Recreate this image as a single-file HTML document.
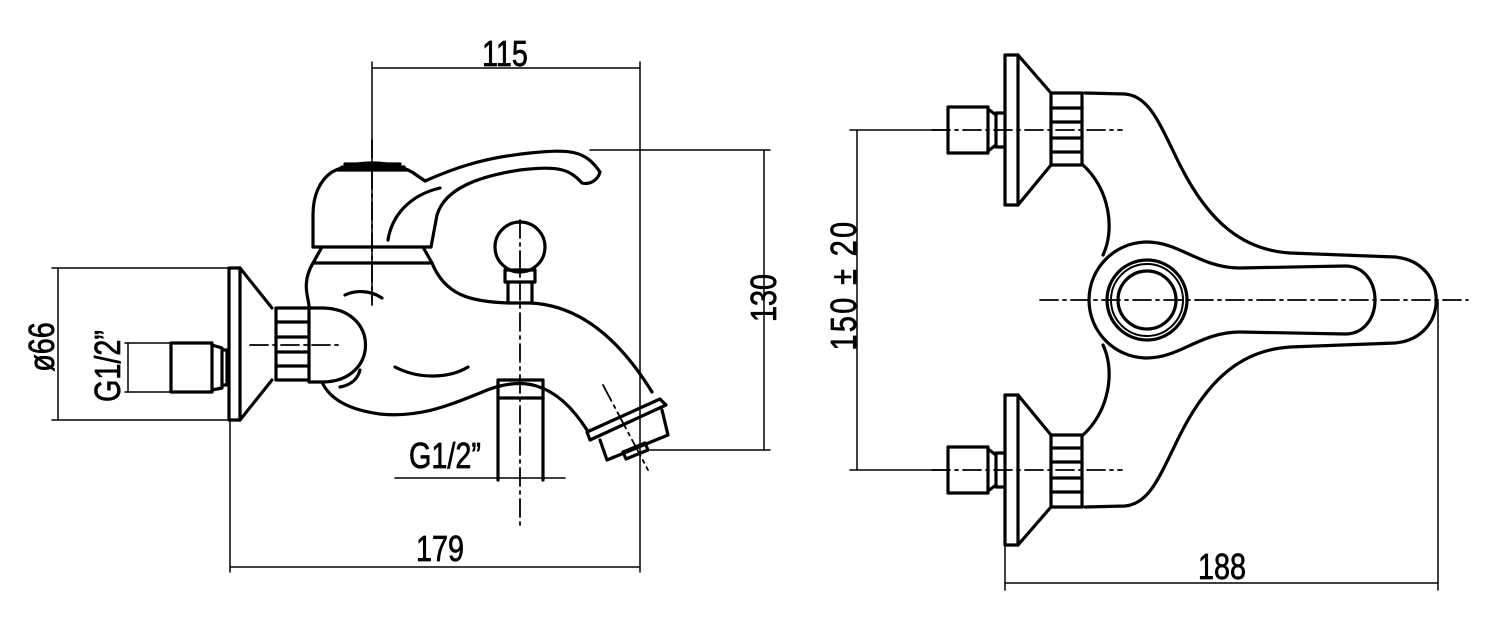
<!DOCTYPE html>
<html><head><meta charset="utf-8"><style>
html,body{margin:0;padding:0;background:#fff;}
svg{display:block}
text{font-family:"Liberation Sans",sans-serif;font-size:36px;fill:#000;stroke:#000;stroke-width:0.7}
</style></head><body>
<svg width="1500" height="627" viewBox="0 0 1500 627" xmlns="http://www.w3.org/2000/svg">
<g fill="none" stroke="#000" stroke-linecap="round" stroke-linejoin="round">
<g stroke-width="1.5">
<line x1="372" y1="62" x2="372" y2="300"/>
<line x1="372" y1="68" x2="640" y2="68"/>
<line x1="640" y1="62" x2="640" y2="572"/>
<line x1="590" y1="150" x2="770" y2="150"/>
<line x1="650" y1="450" x2="770" y2="450"/>
<line x1="764" y1="150" x2="764" y2="450"/>
<line x1="230" y1="420" x2="230" y2="572"/>
<line x1="230" y1="567" x2="640" y2="567"/>
<line x1="52" y1="268" x2="232" y2="268"/>
<line x1="52" y1="420" x2="232" y2="420"/>
<line x1="58" y1="268" x2="58" y2="420"/>
<line x1="125" y1="343" x2="172" y2="343"/>
<line x1="125" y1="392" x2="172" y2="392"/>
<line x1="128" y1="343" x2="128" y2="392"/>
<line x1="395" y1="478" x2="565" y2="478"/>
</g>
<g stroke-width="1.8" stroke-dasharray="18 5 3 5">
<line x1="520" y1="220" x2="520" y2="525"/>
<line x1="250" y1="345" x2="340" y2="345"/>
<line x1="372" y1="140" x2="372" y2="305"/>
<line x1="603" y1="385" x2="648" y2="470"/>
</g>
<g stroke-width="3.2">
<rect x="229" y="268" width="11" height="152"/>
<path d="M240 268 L272 308 M240 420 L272 380"/>
<rect x="276" y="308" width="33" height="72"/>
<path d="M276 322 H309 M276 337 H309 M276 352 H309 M276 366 H309"/>
<path d="M309 308 L322 308 C380 308 380 382 322 382 L309 382"/>
<rect x="171" y="343" width="41" height="49"/>
<path d="M212 345 L222 348 L222 388 L212 390 M222 350 L227 350 L227 385 L222 385"/>
<path d="M313 247 L313 215 C313 195 320 180 332 172 C355 160 390 160 412 172 L425 181"/>
<path d="M313 247 L431 247"/>
<path d="M338 170 L408 170 M342 167 L404 167 M345 164 L400 164"/>
<path d="M425 181 C450 170 480 158 530 153 C570 149 585 150 600 172 C598 180 590 185 582 183 C570 170 560 165 520 170 C480 176 445 188 437 215 L431 247 L431 247"/>
<path d="M388 240 C392 215 410 195 440 188"/>
<path d="M322 247 L313 263 M423 247 L432 263 M313 263 L432 263"/>
<path d="M313 263 C300 285 310 300 309 308"/>
<path d="M432 263 C445 295 470 302 510 303 L530 303 C580 305 620 340 652 392"/>
<path d="M322 382 C330 400 350 410 380 414 C420 418 450 405 480 393 C520 375 555 380 587 430"/>
<path d="M340 387 C352 385 358 378 360 370"/>
<path d="M345 295 C355 290 370 290 382 298"/>
<path d="M395 367 C420 380 450 378 468 367"/>
<path d="M587 432 L660 399 L666 405 L590 440 Z"/>
<path d="M600 440 L607 460 L668 435 L662 410"/>
<path d="M623 452 L645 443 L648 450 L626 459 Z"/>
<circle cx="520" cy="247" r="25"/>
<rect x="505" y="270" width="30" height="12"/>
<path d="M508 282 V303 M532 282 V303"/>
<rect x="498" y="380" width="45" height="18"/>
<path d="M498 398 V480 M543 398 V480"/>
</g>
<g stroke-width="1.5">
<line x1="850" y1="130" x2="945" y2="130"/>
<line x1="850" y1="470" x2="945" y2="470"/>
<line x1="857" y1="130" x2="857" y2="470"/>
<line x1="1005" y1="545" x2="1005" y2="590"/>
<line x1="1438" y1="300" x2="1438" y2="590"/>
<line x1="1005" y1="583" x2="1438" y2="583"/>
</g>
<g stroke-width="1.8" stroke-dasharray="18 5 3 5">
<line x1="932" y1="130" x2="1122" y2="130"/>
<line x1="932" y1="470" x2="1122" y2="470"/>
<line x1="1040" y1="300" x2="1468" y2="300"/>
</g>
<g stroke-width="3.2">
<rect x="1005" y="55" width="13" height="150"/>
<path d="M1018 55 L1051 93 M1018 205 L1051 165"/>
<rect x="1051" y="93" width="31" height="72"/>
<path d="M1051 108 H1082 M1051 122 H1082 M1051 138 H1082 M1051 152 H1082"/>
<rect x="948" y="107" width="40" height="46"/>
<path d="M988 109 L996 115 L996 145 L988 151 M996 113 H1005 M996 147 H1005"/>
<rect x="1005" y="395" width="13" height="150"/>
<path d="M1018 545 L1051 507 M1018 395 L1051 435"/>
<rect x="1051" y="435" width="31" height="72"/>
<path d="M1051 448 H1082 M1051 462 H1082 M1051 478 H1082 M1051 492 H1082"/>
<rect x="948" y="447" width="40" height="46"/>
<path d="M988 449 L996 455 L996 485 L988 491 M996 453 H1005 M996 487 H1005"/>
<path d="M1085 93 L1125 94 C1150 96 1160 125 1180 165 C1210 225 1245 250 1290 253 L1395 257 C1450 262 1450 338 1395 343 L1290 347 C1245 350 1210 375 1180 435 C1160 475 1150 504 1125 506 L1085 507"/>
<path d="M1083 165 C1110 190 1115 230 1103 255"/>
<path d="M1083 435 C1110 410 1115 370 1103 345"/>
<path d="M1147 242 C1180 242 1200 268 1240 268 L1345 266 C1385 266 1385 334 1345 334 L1240 332 C1200 332 1180 358 1147 358 C1115 358 1089 332 1089 300 C1089 268 1115 242 1147 242 Z"/>
<circle cx="1147" cy="300" r="40"/>
<circle cx="1147" cy="300" r="36" stroke-width="2"/>
<circle cx="1147" cy="300" r="29"/>
</g>
</g>
<text transform="translate(505 66) scale(0.8 1)" text-anchor="middle">115</text>
<text transform="translate(440 561) scale(0.8 1)" text-anchor="middle">179</text>
<text transform="translate(1222 579) scale(0.8 1)" text-anchor="middle">188</text>
<text transform="translate(445 468) scale(0.8 1)" text-anchor="middle">G1/2”</text>
<text transform="translate(776 298) rotate(-90) scale(0.8 1)" text-anchor="middle">130</text>
<text transform="translate(54 347) rotate(-90) scale(0.8 1)" text-anchor="middle">ø66</text>
<text transform="translate(120 366) rotate(-90) scale(0.8 1)" text-anchor="middle">G1/2”</text>
<text transform="translate(856 285) rotate(-90) scale(0.8 1)" text-anchor="middle" letter-spacing="3">150 ± 20</text>
</svg>
</body></html>
